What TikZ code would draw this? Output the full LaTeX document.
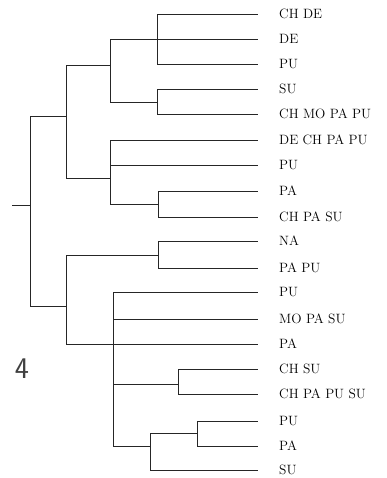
\documentclass[tikz,border=0pt]{standalone}
\begin{document}
\begin{tikzpicture}[x=1pt,y=-1pt,
  branch/.style={draw=black!85,line width=0.8pt},
  leaf/.style={anchor=west,inner xsep=21pt,inner ysep=0pt,text depth=0pt,font=\fontsize{13.5}{15}\selectfont},
  num/.style={font=\sffamily\fontsize{30}{30}\selectfont,text=black!75}]
\useasboundingbox (0,0) rectangle (387,478);
% leaves
\node[leaf] (l1) at (258,14) {CH DE};
\node[leaf] (l2) at (258,39) {DE};
\node[leaf] (l3) at (258,64) {PU};
\node[leaf] (l4) at (258,89) {SU};
\node[leaf] (l5) at (258,114) {CH MO PA PU};
\node[leaf] (l6) at (258,140) {DE CH PA PU};
\node[leaf] (l7) at (258,165) {PU};
\node[leaf] (l8) at (258,191) {PA};
\node[leaf] (l9) at (258,217) {CH PA SU};
\node[leaf] (l10) at (258,241) {NA};
\node[leaf] (l11) at (258,268) {PA PU};
\node[leaf] (l12) at (258,292) {PU};
\node[leaf] (l13) at (258,319) {MO PA SU};
\node[leaf] (l14) at (258,344) {PA};
\node[leaf] (l15) at (258,369) {CH SU};
\node[leaf] (l16) at (258,394) {CH PA PU SU};
\node[leaf] (l17) at (258,421) {PU};
\node[leaf] (l18) at (258,446) {PA};
\node[leaf] (l19) at (258,470) {SU};
% internal nodes
\coordinate (rs) at (12,205);
\coordinate (R) at (30,205);
\coordinate (A) at (66,116);
\coordinate (A1) at (110,65);
\coordinate (A1a) at (157,39);
\coordinate (A1b) at (157,102);
\coordinate (A2) at (110,178);
\coordinate (A2a) at (158,204);
\coordinate (B) at (66,306);
\coordinate (B1) at (158,255);
\coordinate (B2) at (113,344);
\coordinate (B2a) at (178,384);
\coordinate (B2b) at (150,446);
\coordinate (B2b1) at (197,433);
% branches
\draw[branch] (rs) -- (R);
\draw[branch] (R) |- (A);
\draw[branch] (R) |- (B);
\draw[branch] (A) |- (A1);
\draw[branch] (A) |- (A2);
\draw[branch] (A1) |- (A1a);
\draw[branch] (A1) |- (A1b);
\draw[branch] (A1a) |- (l1.west);
\draw[branch] (A1a) |- (l2.west);
\draw[branch] (A1a) |- (l3.west);
\draw[branch] (A1b) |- (l4.west);
\draw[branch] (A1b) |- (l5.west);
\draw[branch] (A2) |- (l6.west);
\draw[branch] (A2) |- (l7.west);
\draw[branch] (A2) |- (A2a);
\draw[branch] (A2a) |- (l8.west);
\draw[branch] (A2a) |- (l9.west);
\draw[branch] (B) |- (B1);
\draw[branch] (B) |- (B2);
\draw[branch] (B1) |- (l10.west);
\draw[branch] (B1) |- (l11.west);
\draw[branch] (B2) |- (l12.west);
\draw[branch] (B2) |- (l13.west);
\draw[branch] (B2) |- (l14.west);
\draw[branch] (B2) |- (B2a);
\draw[branch] (B2) |- (B2b);
\draw[branch] (B2a) |- (l15.west);
\draw[branch] (B2a) |- (l16.west);
\draw[branch] (B2b) |- (B2b1);
\draw[branch] (B2b) |- (l19.west);
\draw[branch] (B2b1) |- (l17.west);
\draw[branch] (B2b1) |- (l18.west);
% figure number
\node[num] (n4) at (22,369) {4};
\end{tikzpicture}
\end{document}
